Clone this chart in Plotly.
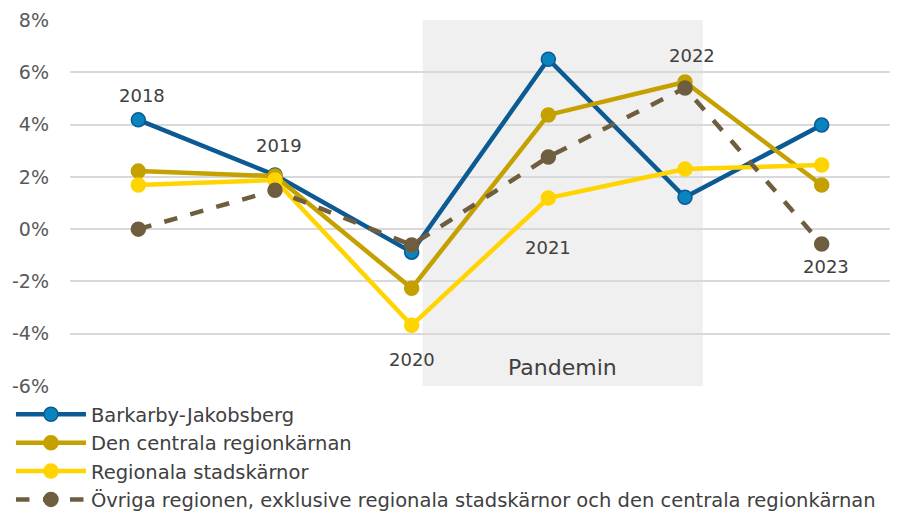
import plotly.graph_objects as go

years = ["2018", "2019", "2020", "2021", "2022", "2023"]
barkarby = [4.18, 2.07, -0.88, 6.5, 1.22, 3.98]
centrala = [2.22, 2.03, -2.26, 4.37, 5.63, 1.69]
regionala = [1.69, 1.88, -3.68, 1.19, 2.30, 2.45]
ovriga = [0.0, 1.49, -0.61, 2.76, 5.40, -0.57]
y_ticks = [-6, -4, -2, 0, 2, 4, 6, 8]
y_tick_labels = ["-6%", "-4%", "-2%", "0%", "2%", "4%", "6%", "8%"]
pandemic_span = [2.08, 4.13]
pandemic_label = "Pandemin"
year_label_y = [5.13, 3.21, -4.97, -0.69, 6.66, -1.42]
year_label_dx = [0.03, 0.03, 0.0, 0.0, 0.05, 0.03]

xs = list(range(len(years)))

series = [
    ("Barkarby-Jakobsberg", barkarby, "#0B5A93", "#0A84BE", "solid"),
    ("Den centrala regionkärnan", centrala, "#C4A000", "#C4A000", "solid"),
    ("Regionala stadskärnor", regionala, "#FFD400", "#FFD400", "solid"),
    ("Övriga regionen, exklusive regionala stadskärnor och den centrala regionkärnan", ovriga, "#6E5E3F", "#6E5E3F", "dash"),
]

fig = go.Figure()
for name, vals, lc, mc, dash in series:
    fig.add_trace(go.Scatter(
        x=xs, y=vals, name=name, mode="lines+markers",
        line=dict(color=lc, width=4.5, dash=dash),
        marker=dict(size=14, color=mc, line=dict(color=lc, width=1.5)),
    ))

fig.add_shape(type="rect", xref="x", yref="y",
              x0=pandemic_span[0], x1=pandemic_span[1], y0=-6, y1=8,
              fillcolor="#F0F0F0", line=dict(width=0), layer="below")
fig.add_annotation(x=(pandemic_span[0] + pandemic_span[1]) / 2, y=-5.3,
                   text=pandemic_label, showarrow=False,
                   font=dict(size=22, color="#404040"))

for i, yl in enumerate(year_label_y):
    fig.add_annotation(x=i + year_label_dx[i], y=yl, text=years[i], showarrow=False,
                       font=dict(size=18, color="#404040"))

fig.update_layout(
    width=906, height=505,
    margin=dict(l=62, r=24, t=12, b=127, autoexpand=False),
    paper_bgcolor="white", plot_bgcolor="white",
    font=dict(family="DejaVu Sans, sans-serif", color="#404040"),
    showlegend=True,
    legend=dict(x=-0.072, y=-0.025, xanchor="left", yanchor="top",
                orientation="v", font=dict(size=19.5, color="#404040"),
                tracegroupgap=0, bgcolor="rgba(0,0,0,0)", itemwidth=70),
)
fig.update_xaxes(range=[-0.5, 5.5], showticklabels=False, showgrid=False,
                 zeroline=False, showline=False, ticks="")
fig.update_yaxes(range=[-6, 8], tickvals=y_ticks, ticktext=y_tick_labels,
                 showgrid=True, gridcolor="#D9D9D9", gridwidth=1.5,
                 zeroline=False, showline=False,
                 tickfont=dict(size=19, color="#595959"), ticklabelstandoff=20)

fig.write_html("out.html")
